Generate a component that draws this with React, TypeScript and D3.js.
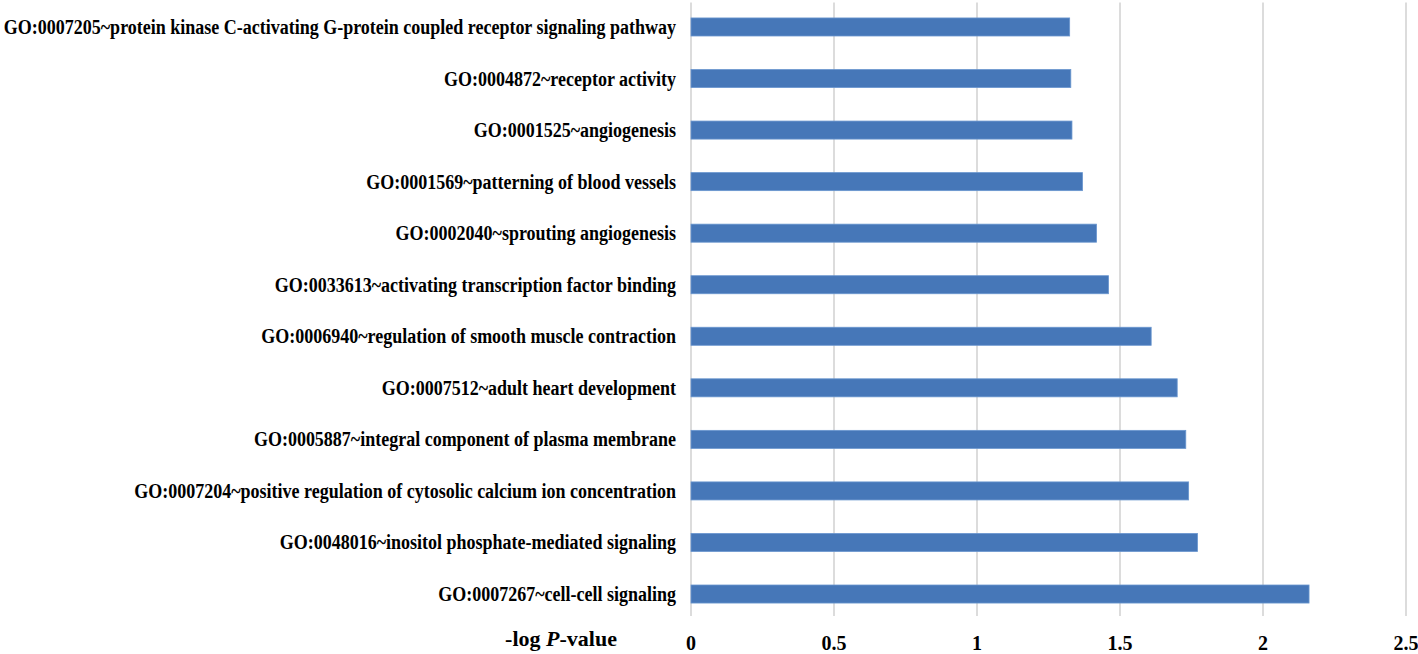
import React from "react";
import * as d3 from "d3";

const categories: string[] = [
  "GO:0007205~protein kinase C-activating G-protein coupled receptor signaling pathway",
  "GO:0004872~receptor activity",
  "GO:0001525~angiogenesis",
  "GO:0001569~patterning of blood vessels",
  "GO:0002040~sprouting angiogenesis",
  "GO:0033613~activating transcription factor binding",
  "GO:0006940~regulation of smooth muscle contraction",
  "GO:0007512~adult heart development",
  "GO:0005887~integral component of plasma membrane",
  "GO:0007204~positive regulation of cytosolic calcium ion concentration",
  "GO:0048016~inositol phosphate-mediated signaling",
  "GO:0007267~cell-cell signaling",
];

const values: number[] = [1.324, 1.328, 1.332, 1.369, 1.418, 1.46, 1.609, 1.7, 1.73, 1.74, 1.771, 2.161];

const ticks: number[] = [0, 0.5, 1, 1.5, 2, 2.5];

const W = 1418;
const H = 654;
const x0 = 691;
const x1 = 1406;
const yTop = 1.2;
const yBot = 619.8;

export default function App() {
  const x = d3.scaleLinear().domain([0, 2.5]).range([x0, x1]);
  const y = d3
    .scaleBand<string>()
    .domain(categories)
    .range([yTop, yBot])
    .paddingInner(0.65)
    .paddingOuter(0.325);

  const font = "'Liberation Serif', 'Times New Roman', serif";
  const labelRight = 676;

  return (
    <svg
      width={W}
      height={H}
      style={{ position: "absolute", left: 0, top: 0, display: "block", background: "#fff" }}
    >
      {ticks.map((t) => (
        <line
          key={"g" + t}
          x1={x(t)}
          x2={x(t)}
          y1={2.5}
          y2={616}
          stroke="#d9d9d9"
          strokeWidth={1.8}
        />
      ))}
      {categories.map((c, i) => (
        <rect
          key={"b" + i}
          x={x(0)}
          y={y(c)!}
          width={x(values[i]) - x(0)}
          height={y.bandwidth()}
          fill="#4677b8"
          stroke="#6a96cf"
          strokeWidth={0.8}
        />
      ))}
      <g transform={`translate(${labelRight},0) scale(0.9,1)`}>
        {categories.map((c) => (
          <text
            key={"l" + c}
            x={0}
            y={y(c)! + y.bandwidth() / 2}
            dy="0.35em"
            textAnchor="end"
            fontFamily={font}
            fontWeight="bold"
            fontSize={20}
            fill="#000"
          >
            {c}
          </text>
        ))}
      </g>
      {ticks.map((t) => (
        <text
          key={"t" + t}
          x={x(t)}
          y={650}
          textAnchor="middle"
          fontFamily={font}
          fontWeight="bold"
          fontSize={20}
          fill="#000"
        >
          {String(t)}
        </text>
      ))}
      <text
        x={561}
        y={646}
        textAnchor="middle"
        fontFamily={font}
        fontWeight="bold"
        fontSize={22}
        fill="#000"
      >
        -log <tspan fontStyle="italic">P</tspan>-value
      </text>
    </svg>
  );
}
